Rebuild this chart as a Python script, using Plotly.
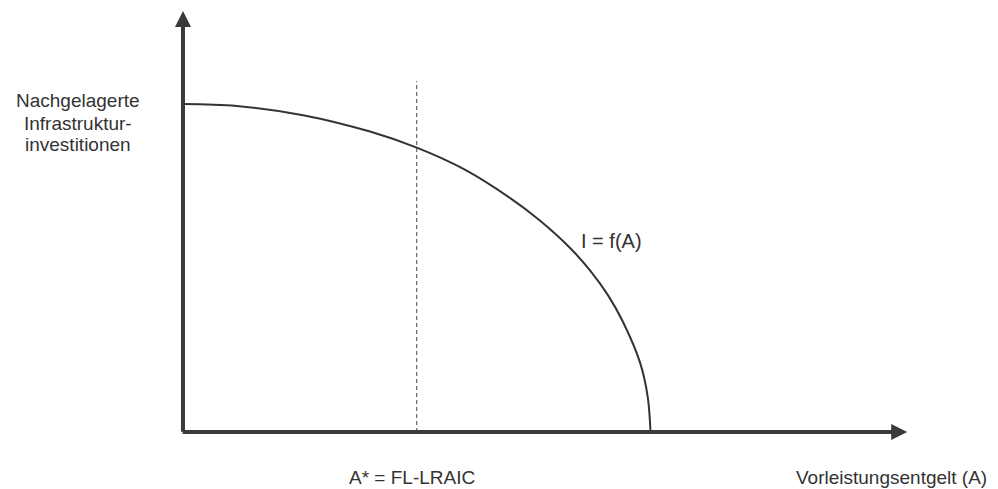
'''
Investitionskurve: nachgelagerte Infrastrukturinvestitionen
als Funktion des Vorleistungsentgelts
'''
import plotly.graph_objects as go

### DATA ###
# Vorleistungsentgelt A (Kurvenende = 100)
entgelt = [0, 11.5, 25.7, 40, 50, 60, 70, 76.4, 82.8, 87.1, 91, 94.1, 97.8, 99.4, 100]
# Investitionen I = f(A)
investitionen = [100, 99.4, 96.6, 91.6, 86.7, 80.2, 71.3, 64.4, 56.1, 49.2, 41.5, 33.6, 21.0, 10.8, 0]

a_stern = 50          # A* = FL-LRAIC
a_stern_hoehe = 107   # Ende der gestrichelten Linie
x_achse_ende = 154.9
y_achse_ende = 128.35

label_y = ['Nachgelagerte', 'Infrastruktur-', 'investitionen']
label_y_pos = [101.2, 94.2, 87.6]
label_x = 'Vorleistungsentgelt (A)'
label_a_stern = 'A* = FL-LRAIC'
label_kurve = 'I = f(A)'

AXIS_COLOR = '#3a3a3a'
LINE_COLOR = '#333333'
FONT = 'Liberation Sans, Arial, sans-serif'


def arrow(x, y, ax, ay):
    '''
    annotation drawing an axis with an arrowhead at (x, y)
    '''
    return dict(
        x=x, y=y, ax=ax, ay=ay, xref='x', yref='y', axref='x', ayref='y',
        text='', showarrow=True, arrowhead=2, arrowsize=0.8,
        arrowwidth=4, arrowcolor=AXIS_COLOR, standoff=0
    )


def label(text, x, y, size=19):
    '''
    plain text annotation centred on (x, y)
    '''
    return dict(
        x=x, y=y, xref='x', yref='y', text=text, showarrow=False,
        xanchor='center', yanchor='middle', align='center',
        font=dict(family=FONT, size=size, color='#333333')
    )


fig = go.Figure()

### KURVE ###
fig.add_trace(go.Scatter(
    x=entgelt, y=investitionen, mode='lines',
    line=dict(color=LINE_COLOR, width=2, shape='spline', smoothing=1),
    hoverinfo='skip'
))

### A* ###
fig.add_trace(go.Scatter(
    x=[a_stern, a_stern], y=[0, a_stern_hoehe], mode='lines',
    line=dict(color='#444444', width=1, dash='4px,3px'),
    hoverinfo='skip'
))

annotations = [
    arrow(0, y_achse_ende, 0, -0.4),
    arrow(x_achse_ende, 0, -0.4, 0),
    label(label_a_stern, 48.9, -13.9),
    label(label_x, 151.6, -13.9),
    label(label_kurve, 91.7, 58.2, size=20),
]
for text, pos in zip(label_y, label_y_pos):
    annotations.append(label(text, -22.5, pos))

fig.update_layout(
    width=998, height=489,
    margin=dict(l=0, r=0, t=0, b=0),
    paper_bgcolor='white', plot_bgcolor='white',
    showlegend=False,
    annotations=annotations,
    xaxis=dict(range=[-39.14, 174.33], visible=False, fixedrange=True),
    yaxis=dict(range=[-17.38, 131.71], visible=False, fixedrange=True),
)

fig.write_html(
    'out.html', config={'displayModeBar': False},
    post_script="document.body.style.margin='0';document.body.style.overflow='hidden';"
)
